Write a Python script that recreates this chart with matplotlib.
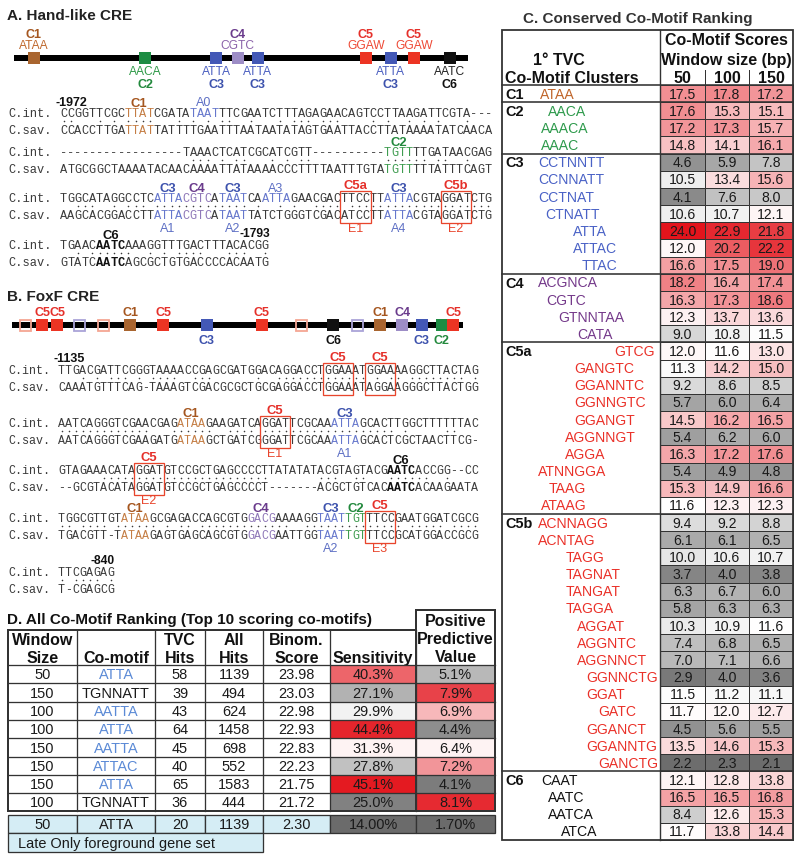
import numpy as np
import matplotlib.pyplot as plt
from matplotlib.patches import Rectangle
from matplotlib.colors import LinearSegmentedColormap, TwoSlopeNorm

plt.rcParams['font.family'] = ['Liberation Sans', 'DejaVu Sans']

# ------------------------------------------------------------------
# A. Hand-like CRE
# ------------------------------------------------------------------
# motif sites along the element (fraction of the element length)
hand_track_pos = [0.044, 0.289, 0.445, 0.493, 0.537, 0.775, 0.830, 0.881, 0.960]
hand_track_cluster = ['C1', 'C2', 'C3', 'C4', 'C3', 'C5', 'C3', 'C5', 'C6']
hand_track_motif = ['ATAA', 'AACA', 'ATTA', 'CGTC', 'ATTA', 'GGAW', 'ATTA', 'GGAW', 'AATC']

hand_int = ['CCGGTTCGCTTATCGATATAATTTCGAATCTTTAGAGAACAGTCCTTAAGATTCGTA---',
            '-----------------TAAACTCATCGCATCGTT----------TGTTTTGATAACGAG',
            'TGGCATAGGCCTCATTACGTCATAATCAATTAGAACGACTTCCTTATTACGTAGGATCTG',
            'TGAACAATCAAAGGTTTGACTTTACACGG']
hand_sav = ['CCACCTTGATTATTATTTTGAATTTAATAATATAGTGAATTACCTTATAAAATATCAACA',
            'ATGCGGCTAAAATACAACAAAATTATAAAACCCTTTTAATTTGTATGTTTTTATTTCAGT',
            'AAGCACGGACCTTATTACGTCATAATTATCTGGGTCGACATCCTTATTACGTAGGATCTG',
            'GTATCAATCAGCGCTGTGACCCCACAATG']
# (row, start, length, cluster, label above, label below, kind)
hand_sites = [(0, 9, 4, 'C1', 'C1', None, 'both'),
              (0, 18, 4, 'C3', 'A0', None, 'int'),
              (1, 45, 4, 'C2', 'C2', None, 'both'),
              (2, 13, 4, 'C3', 'C3', 'A1', 'both'),
              (2, 17, 4, 'C4', 'C4', None, 'both'),
              (2, 22, 4, 'C3', 'C3', 'A2', 'both'),
              (2, 28, 4, 'C3', 'A3', None, 'int'),
              (2, 39, 4, 'C5', 'C5a', 'E1', 'box'),
              (2, 45, 4, 'C3', 'C3', 'A4', 'both'),
              (2, 53, 4, 'C5', 'C5b', 'E2', 'box'),
              (3, 5, 4, 'C6', 'C6', None, 'bold')]
hand_marks = [('-1972', 0, 'start'), ('-1793', 3, 'end')]

# ------------------------------------------------------------------
# B. FoxF CRE
# ------------------------------------------------------------------
foxf_track_pos = [0.029, 0.067, 0.100, 0.149, 0.202, 0.262, 0.335, 0.432, 0.554,
                  0.641, 0.712, 0.765, 0.816, 0.865, 0.909, 0.953, 0.978]
foxf_track_cluster = ['C5', 'C5', 'C5', 'C3', 'C5', 'C1', 'C5', 'C3', 'C5',
                      'C5', 'C6', 'C3', 'C1', 'C4', 'C3', 'C2', 'C5']
foxf_track_conserved = [False, True, True, False, False, True, True, True, True,
                        False, True, False, True, True, True, True, True]

foxf_int = ['TTGACGATTCGGGTAAAACCGAGCGATGGACAGGACCTGGAAATGGAAAAGGCTTACTAG',
            'AATCAGGGTCGAACGAGATAAGAAGATCAGGATTCGCAAATTAGCACTTGGCTTTTTTAC',
            'GTAGAAACATAGGATGTCCGCTGAGCCCCTTATATATACGTAGTACGAATCACCGG--CC',
            'TGGCGTTGTATAAGCGAGACCAGCGTGGACGAAAAGGTAATTGTTTCCGAATGGATCGCG',
            'TTCGAGAG']
foxf_sav = ['CAAATGTTTCAG-TAAAGTCGACGCGCTGCGAGGACCTGGAAATAGGAAGGGCTTACTGG',
            'AATCAGGGTCGAAGATGATAAGCTGATCGGGATTCGCAAATTAGCACTCGCTAACTTCG-',
            '--GCGTACATAGGATGTCCGCTGAGCCCCT-------ACGCTGTCACAATCACAAGAATA',
            'TGACGTT-TATAAGAGTGAGCAGCGTGGACGAATTGGTAATTGTTTCCGCATGGACCGCG',
            'T-CGAGCG']
foxf_sites = [(0, 38, 4, 'C5', 'C5', None, 'box'),
              (0, 44, 4, 'C5', 'C5', None, 'box'),
              (1, 17, 4, 'C1', 'C1', None, 'both'),
              (1, 29, 4, 'C5', 'C5', 'E1', 'box'),
              (1, 39, 4, 'C3', 'C3', 'A1', 'both'),
              (2, 11, 4, 'C5', 'C5', 'E2', 'box'),
              (2, 47, 4, 'C6', 'C6', None, 'bold'),
              (3, 9, 4, 'C1', 'C1', None, 'both'),
              (3, 27, 4, 'C4', 'C4', None, 'both'),
              (3, 37, 4, 'C3', 'C3', 'A2', 'both'),
              (3, 41, 3, 'C2', 'C2', None, 'both'),
              (3, 44, 4, 'C5', 'C5', 'E3', 'box')]
foxf_marks = [('-1135', 0, 'start'), ('-840', 4, 'end')]

# ------------------------------------------------------------------
# C. Conserved co-motif ranking
# ------------------------------------------------------------------
window_sizes = [50, 100, 150]
c_cluster = (['C1'] + ['C2'] * 3 + ['C3'] * 7 + ['C4'] * 4 + ['C5a'] * 10
             + ['C5b'] * 15 + ['C6'] * 4)
c_motif = ['ATAA',
           'AACA', 'AAACA', 'AAAC',
           'CCTNNTT', 'CCNNATT', 'CCTNAT', 'CTNATT', 'ATTA', 'ATTAC', 'TTAC',
           'ACGNCA', 'CGTC', 'GTNNTAA', 'CATA',
           'GTCG', 'GANGTC', 'GGANNTC', 'GGNNGTC', 'GGANGT', 'AGGNNGT', 'AGGA',
           'ATNNGGA', 'TAAG', 'ATAAG',
           'ACNNAGG', 'ACNTAG', 'TAGG', 'TAGNAT', 'TANGAT', 'TAGGA', 'AGGAT',
           'AGGNTC', 'AGGNNCT', 'GGNNCTG', 'GGAT', 'GATC', 'GGANCT', 'GGANNTG', 'GANCTG',
           'CAAT', 'AATC', 'AATCA', 'ATCA']
c_s50 = [17.5, 17.6, 17.2, 14.8, 4.6, 10.5, 4.1, 10.6, 24.0, 12.0, 16.6,
         18.2, 16.3, 12.3, 9.0, 12.0, 11.3, 9.2, 5.7, 14.5, 5.4, 16.3, 5.4, 15.3, 11.6,
         9.4, 6.1, 10.0, 3.7, 6.3, 5.8, 10.3, 7.4, 7.0, 2.9, 11.5, 11.7, 4.5, 13.5, 2.2,
         12.1, 16.5, 8.4, 11.7]
c_s100 = [17.8, 15.3, 17.3, 14.1, 5.9, 13.4, 7.6, 10.7, 22.9, 20.2, 17.5,
          16.4, 17.3, 13.7, 10.8, 11.6, 14.2, 8.6, 6.0, 16.2, 6.2, 17.2, 4.9, 14.9, 12.3,
          9.2, 6.1, 10.6, 4.0, 6.7, 6.3, 10.9, 6.8, 7.1, 4.0, 11.2, 12.0, 5.6, 14.6, 2.3,
          12.8, 16.5, 12.6, 13.8]
c_s150 = [17.2, 15.1, 15.7, 16.1, 7.8, 15.6, 8.0, 12.1, 21.8, 22.2, 19.0,
          17.4, 18.6, 13.6, 11.5, 13.0, 15.0, 8.5, 6.4, 16.5, 6.0, 17.6, 4.8, 16.6, 12.3,
          8.8, 6.5, 10.7, 3.8, 6.0, 6.3, 11.6, 6.5, 6.6, 3.6, 11.1, 12.7, 5.5, 15.3, 2.1,
          13.8, 16.8, 15.3, 14.4]

# ------------------------------------------------------------------
# D. All co-motif ranking (top scoring co-motifs)
# ------------------------------------------------------------------
d_window = [50, 150, 100, 100, 150, 150, 150, 100]
d_motif = ['ATTA', 'TGNNATT', 'AATTA', 'ATTA', 'AATTA', 'ATTAC', 'ATTA', 'TGNNATT']
d_motif_c3 = [True, False, True, True, True, True, True, False]
d_tvc = [58, 39, 43, 64, 45, 40, 65, 36]
d_all = [1139, 494, 624, 1458, 698, 552, 1583, 444]
d_binom = [23.98, 23.03, 22.98, 22.93, 22.83, 22.23, 21.75, 21.72]
d_sens = [40.3, 27.1, 29.9, 44.4, 31.3, 27.8, 45.1, 25.0]
d_ppv = [5.1, 7.9, 6.9, 4.4, 6.4, 7.2, 4.1, 8.1]
late_window, late_motif, late_tvc, late_all = 50, 'ATTA', 20, 1139
late_binom, late_sens, late_ppv = 2.30, 14.00, 1.70

# ------------------------------------------------------------------
# styles
# ------------------------------------------------------------------
label_col = {'C1': '#a5561f', 'C2': '#23893d', 'C3': '#3d52ad', 'C4': '#6a3b8c',
             'C5': '#e5302a', 'C6': '#111111'}
seq_col = {'C1': '#c47d44', 'C2': '#3f9c50', 'C3': '#6677cc', 'C4': '#8f78b8',
           'C5': '#e5302a', 'C6': '#111111'}
motif_col = {'C1': '#c0692e', 'C2': '#2f9a48', 'C3': '#4b5fc0', 'C4': '#8b63aa',
             'C5': '#ee4a36', 'C6': '#222222'}
track_col = {'C1': '#a9652f', 'C2': '#1d8c43', 'C3': '#4358b6', 'C4': '#9d8dc6',
             'C5': '#ec3423', 'C6': '#111111'}
hollow_col = {'C5': '#f4a593', 'C3': '#aaa3d8'}
table_motif_col = {'C1': '#c0652a', 'C2': '#2e9a4c', 'C3': '#4a62c6', 'C4': '#74398a',
                   'C5a': '#ea3129', 'C5b': '#ea3129', 'C6': '#111111'}
seq_grey = '#3a3a3a'
box_red = '#e8452c'
line_col = '#333333'
mono = 'Liberation Mono'

heat = LinearSegmentedColormap.from_list('heat', ['#6b6b6b', '#ffffff', '#e3141c'])
c_norm = TwoSlopeNorm(vmin=2.0, vcenter=11.6, vmax=24.0)
sens_norm = TwoSlopeNorm(vmin=24.0, vcenter=30.5, vmax=45.5)
ppv_norm = TwoSlopeNorm(vmin=3.8, vcenter=6.3, vmax=8.3)

W, H = 800, 859
fig = plt.figure(figsize=(W / 100, H / 100), dpi=100)
ax = fig.add_axes([0, 0, 1, 1])
ax.set_xlim(0, W)
ax.set_ylim(H, 0)
ax.axis('off')
PT = 0.72  # points per pixel at 100 dpi


def put(x, y, s, size, color='#222222', weight='normal', ha='center', family=None):
    # y is the visual middle of capital letters
    kw = {'family': family} if family else {}
    ax.text(x, y + 0.36 * size, s, fontsize=size * PT, color=color,
            fontweight=weight, ha=ha, va='baseline', **kw)


def draw_track(y, xa, xb, pos, clusters, motifs=None, conserved=None):
    ax.plot([xa, xb], [y, y], color='black', lw=6 * PT, solid_capstyle='butt', zorder=2)
    for k, (f, c) in enumerate(zip(pos, clusters)):
        x = xa + f * (xb - xa)
        if conserved is not None and not conserved[k]:
            ax.add_patch(Rectangle((x - 5.5, y - 5.5), 11, 11, facecolor='none',
                                   edgecolor=hollow_col[c], lw=1.8 * PT, zorder=3))
            continue
        ax.add_patch(Rectangle((x - 6, y - 6), 12, 12, facecolor=track_col[c],
                               edgecolor='none', zorder=3))
        sgn = -1 if c in ('C1', 'C4', 'C5') else 1
        if motifs is not None:
            put(x, y + sgn * 13, motifs[k], 12, color=motif_col[c])
            put(x, y + sgn * 25, c, 12.5, color=label_col[c], weight='bold')
        else:
            put(x, y + sgn * 14, c, 12.5, color=label_col[c], weight='bold')


def draw_alignment(ints, savs, sites, marks, x0, cw, rows_y):
    fs = cw / 0.6
    for r, (si, ss) in enumerate(zip(ints, savs)):
        y = rows_y[r]
        ys = y + 16.5
        put(8, y, 'C.int.', fs, color=seq_grey, ha='left', family=mono)
        put(8, ys, 'C.sav.', fs, color=seq_grey, ha='left', family=mono)
        ci, cs = [seq_grey] * len(si), [seq_grey] * len(ss)
        wi, ws = ['normal'] * len(si), ['normal'] * len(ss)
        for (row, st, n, cl, top, bot, kind) in sites:
            if row != r:
                continue
            xc = x0 + cw * (st + n / 2)
            for i in range(st, st + n):
                if kind in ('both', 'int'):
                    ci[i] = seq_col[cl]
                if kind == 'both':
                    cs[i] = seq_col[cl]
                if kind == 'bold':
                    ci[i] = cs[i] = '#111111'
                    wi[i] = ws[i] = 'bold'
            if kind == 'box':
                ax.add_patch(Rectangle((x0 + cw * st - 1, y - 7), cw * n + 2, ys - y + 15,
                                       facecolor='none', edgecolor=box_red, lw=1.3 * PT, zorder=4))
            if top:
                if top.startswith('A'):
                    put(xc, y - 11, top, 12.5, color='#5d6fc4')
                else:
                    put(xc, y - (14 if kind == 'box' else 11), top, 13,
                        color=label_col[cl], weight='bold')
            if bot:
                bcol = box_red if kind == 'box' else '#5d6fc4'
                put(xc, ys + 13, bot, 12.5, color=bcol)
        for i, ch in enumerate(si):
            put(x0 + cw * (i + 0.5), y, ch, fs, color=ci[i], weight=wi[i], family=mono)
        for i, ch in enumerate(ss):
            put(x0 + cw * (i + 0.5), ys, ch, fs, color=cs[i], weight=ws[i], family=mono)
        m = np.array([i for i in range(min(len(si), len(ss)))
                      if si[i] == ss[i] and si[i] != '-'])
        if len(m):
            ax.scatter(x0 + cw * (m + 0.5), np.full(len(m), y + 8), s=1.3,
                       color=seq_grey, marker='o', linewidths=0, zorder=3)
    for text, r, where in marks:
        y = rows_y[r] - 12
        if where == 'start':
            put(x0 - 5, y, text, 12.5, color='#111111', weight='bold', ha='left')
        else:
            put(x0 + cw * len(ints[r]) + 1, y, text, 12, color='#111111',
                weight='bold', ha='right')


# ---------------- panel A ----------------
put(7, 14, 'A. Hand-like CRE', 15.3, color='#222222', weight='bold', ha='left')
draw_track(58, 14, 468, hand_track_pos, hand_track_cluster, motifs=hand_track_motif)
draw_alignment(hand_int, hand_sav, hand_sites, hand_marks, 60, 7.2, [113, 152, 198, 245])

# ---------------- panel B ----------------
put(7, 295, 'B. FoxF CRE', 15.3, color='#222222', weight='bold', ha='left')
draw_track(325, 12, 463, foxf_track_pos, foxf_track_cluster, conserved=foxf_track_conserved)
draw_alignment(foxf_int, foxf_sav, foxf_sites, foxf_marks, 58, 7.0, [370, 423, 470, 518, 572])

# ---------------- panel C ----------------
cx0, cxl = 502, 660
ccols = [660, 705, 749, 793]
c_top, c_head, c_bot = 30, 85, 840
c_rh = (c_bot - c_head) / len(c_motif)
c_indent = [540,
            548, 541, 541,
            538, 538, 538, 545, 573, 573, 582,
            538, 546, 558, 577,
            614, 574, 574, 574, 574, 565, 565, 538, 549, 541,
            538, 538, 566, 566, 566, 566, 577, 577, 577, 586, 586, 598, 586, 586, 598,
            541, 548, 548, 561]

put(638, 17, 'C. Conserved Co-Motif Ranking', 15.3, color='#333333', weight='bold')
put(559, 59, '1\u00b0 TVC', 16, color='#111111', weight='bold')
put(505, 77, 'Co-Motif Clusters', 16, color='#111111', weight='bold', ha='left')
put((ccols[0] + ccols[-1]) / 2, 39, 'Co-Motif Scores', 16, color='#111111', weight='bold')
put((ccols[0] + ccols[-1]) / 2, 59, 'Window size (bp)', 16, color='#111111', weight='bold')
for j, wsz in enumerate(window_sizes):
    put((ccols[j] + ccols[j + 1]) / 2, 77, str(wsz), 16, color='#111111', weight='bold')
    if j > 0:
        ax.plot([ccols[j], ccols[j]], [70, c_head], color=line_col, lw=1 * PT)

scores = [c_s50, c_s100, c_s150]
for i, (cl, mt) in enumerate(zip(c_cluster, c_motif)):
    yt = c_head + i * c_rh
    yc = yt + c_rh / 2
    if i == 0 or c_cluster[i - 1] != cl:
        ax.plot([cx0, ccols[-1]], [yt, yt], color=line_col, lw=1.6 * PT, zorder=5)
        put(505, yc, cl, 14.5, color='#111111', weight='bold', ha='left')
    put(c_indent[i], yc, mt, 14, color=table_motif_col[cl], ha='left')
    for j in range(3):
        v = scores[j][i]
        ax.add_patch(Rectangle((ccols[j], yt), ccols[j + 1] - ccols[j], c_rh,
                               facecolor=heat(c_norm(v)), edgecolor=line_col, lw=1 * PT, zorder=3))
        put((ccols[j] + ccols[j + 1]) / 2, yc, f'{v:.1f}', 14, color='#1a1a1a')
ax.plot([cxl, cxl], [c_top, c_bot], color=line_col, lw=1.4 * PT, zorder=5)
ax.add_patch(Rectangle((cx0, c_top), ccols[-1] - cx0, c_bot - c_top, facecolor='none',
                       edgecolor=line_col, lw=1.8 * PT, zorder=6))

# ---------------- panel D ----------------
dcols = [8, 77, 155, 205, 263, 330, 416, 495]
d_top, d_ppv_top, d_head = 630, 610, 665
d_rh = 18.3
d_bot = d_head + d_rh * len(d_motif)
dc = [(dcols[k] + dcols[k + 1]) / 2 for k in range(len(dcols) - 1)]

put(7, 618, 'D. All Co-Motif Ranking (Top 10 scoring co-motifs)', 15.3,
    color='#111111', weight='bold', ha='left')
head_lines = [('Window', 'Size'), (None, 'Co-motif'), ('TVC', 'Hits'), ('All', 'Hits'),
              ('Binom.', 'Score'), (None, 'Sensitivity')]
for k, (l1, l2) in enumerate(head_lines):
    if l1:
        put(dc[k], 639, l1, 16, color='#111111', weight='bold')
    put(dc[k], 657, l2, 16, color='#111111', weight='bold')
for yy, s in zip([620, 638, 656], ['Positive', 'Predictive', 'Value']):
    put(dc[6], yy, s, 16, color='#111111', weight='bold')

for i in range(len(d_motif)):
    yt = d_head + i * d_rh
    yc = yt + d_rh / 2
    ax.add_patch(Rectangle((dcols[5], yt), dcols[6] - dcols[5], d_rh,
                           facecolor=heat(sens_norm(d_sens[i])), edgecolor='none', zorder=2))
    ax.add_patch(Rectangle((dcols[6], yt), dcols[7] - dcols[6], d_rh,
                           facecolor=heat(ppv_norm(d_ppv[i])), edgecolor='none', zorder=2))
    ax.plot([dcols[0], dcols[-1]], [yt, yt], color=line_col, lw=1.3 * PT, zorder=4)
    vals = [str(d_window[i]), d_motif[i], str(d_tvc[i]), str(d_all[i]),
            f'{d_binom[i]:.2f}', f'{d_sens[i]:.1f}%', f'{d_ppv[i]:.1f}%']
    for k, s in enumerate(vals):
        col = '#5b8ad6' if (k == 1 and d_motif_c3[i]) else '#1a1a1a'
        put(dc[k], yc, s, 14.5, color=col)
for x in dcols[1:-1]:
    ax.plot([x, x], [d_top, d_bot], color=line_col, lw=1.3 * PT, zorder=4)
ax.add_patch(Rectangle((dcols[0], d_top), dcols[6] - dcols[0], d_bot - d_top,
                       facecolor='none', edgecolor=line_col, lw=2 * PT, zorder=5))
ax.add_patch(Rectangle((dcols[6], d_ppv_top), dcols[7] - dcols[6], d_bot - d_ppv_top,
                       facecolor='none', edgecolor=line_col, lw=2 * PT, zorder=5))

# late-only row
lt, lb = 815, 833
late_bg = '#d5edf5'
late_vals = [str(late_window), late_motif, str(late_tvc), str(late_all),
             f'{late_binom:.2f}', f'{late_sens:.2f}%', f'{late_ppv:.2f}%']
late_fill = [late_bg] * 5 + [heat(sens_norm(late_sens)), heat(ppv_norm(late_ppv))]
for k, s in enumerate(late_vals):
    ax.add_patch(Rectangle((dcols[k], lt), dcols[k + 1] - dcols[k], lb - lt,
                           facecolor=late_fill[k], edgecolor=line_col, lw=1.3 * PT, zorder=3))
    put(dc[k], (lt + lb) / 2, s, 14.5, color='#1a1a1a')
ax.add_patch(Rectangle((dcols[0], lb), dcols[4] - dcols[0], 19, facecolor=late_bg,
                       edgecolor=line_col, lw=1.3 * PT, zorder=3))
put(18, lb + 9.5, 'Late Only foreground gene set', 14.5, color='#1a1a1a', ha='left')

fig.savefig('out.png', dpi=100)
